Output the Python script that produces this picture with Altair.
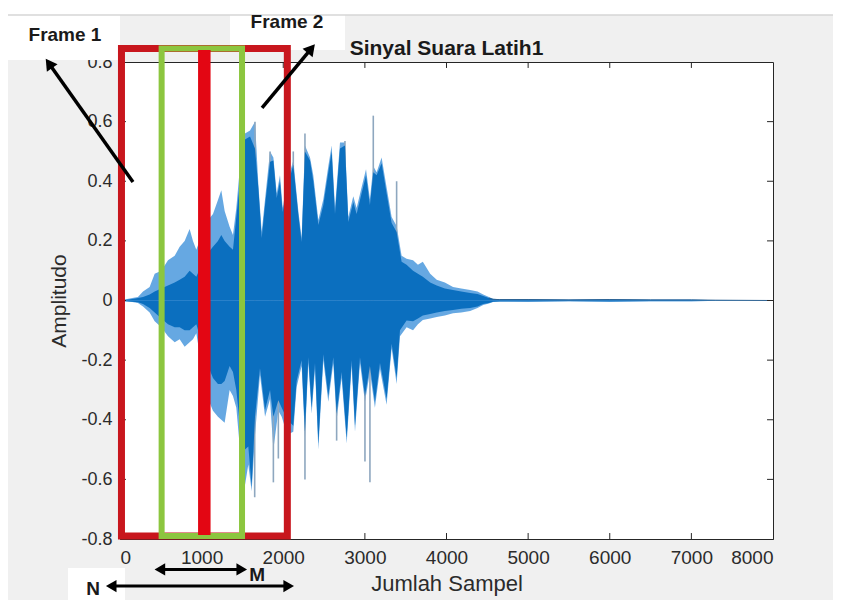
import altair as alt
import pandas as pd

# ---------------- data ----------------
# upper half of the waveform: sample index, outer (light) peak, dense (dark) peak
top_x = [0, 57, 150, 220, 282, 363, 425, 506, 588, 670, 731, 792, 853, 894, 935, 1000, 1080, 1139,
         1200, 1241, 1282, 1343, 1384, 1425, 1470, 1531, 1593, 1654, 1695, 1736, 1777, 1838, 1879,
         1920, 1960, 1993, 2050, 2123, 2185, 2225, 2266, 2328, 2368, 2430, 2491, 2552, 2593, 2634,
         2695, 2756, 2797, 2858, 2899, 2960, 3014, 3062, 3103, 3144, 3205, 3266, 3328, 3389, 3450,
         3511, 3590, 3650, 3710, 3800, 3880, 3980, 4080, 4180, 4290, 4380, 4450, 4520, 4570, 4650,
         5000, 5500, 6000, 6500, 7000, 7300, 8000]
top_light = [0, 0.003, 0.008, 0.012, 0.03, 0.045, 0.09, 0.10, 0.135, 0.15, 0.18, 0.20, 0.24, 0.20, 0.17, 0.22, 0.27, 0.29,
             0.337, 0.37, 0.30, 0.247, 0.22, 0.31, 0.45, 0.56, 0.57, 0.60, 0.39, 0.23, 0.34, 0.50, 0.48,
             0.36, 0.42, 0.31, 0.40, 0.47, 0.30, 0.21, 0.52, 0.48, 0.42, 0.27, 0.34, 0.45, 0.52, 0.31,
             0.53, 0.53, 0.28, 0.35, 0.31, 0.38, 0.44, 0.34, 0.45, 0.43, 0.48, 0.38, 0.28, 0.25, 0.15,
             0.14, 0.135, 0.12, 0.13, 0.09, 0.07, 0.06, 0.045, 0.04, 0.035, 0.03, 0.02, 0.012, 0.006, 0.004,
             0.004, 0.003, 0.004, 0.003, 0.003, 0.001, 0]
top_dark = [0, 0.002, 0.005, 0.008, 0.012, 0.02, 0.03, 0.04, 0.05, 0.06, 0.07, 0.08, 0.10, 0.09, 0.08, 0.12, 0.16, 0.18,
            0.20, 0.22, 0.20, 0.18, 0.17, 0.28, 0.40, 0.54, 0.55, 0.51, 0.377, 0.21, 0.32, 0.465, 0.47,
            0.344, 0.40, 0.297, 0.38, 0.455, 0.287, 0.196, 0.50, 0.47, 0.40, 0.253, 0.32, 0.43, 0.50, 0.29,
            0.51, 0.52, 0.263, 0.33, 0.29, 0.36, 0.42, 0.32, 0.43, 0.42, 0.46, 0.36, 0.26, 0.23, 0.13,
            0.12, 0.10, 0.09, 0.08, 0.06, 0.05, 0.04, 0.035, 0.03, 0.025, 0.022, 0.015, 0.008, 0.004, 0.003,
            0.003, 0.002, 0.003, 0.002, 0.002, 0.001, 0]

# lower half of the waveform
bot_x = [0, 57, 150, 220, 282, 363, 425, 506, 588, 670, 731, 792, 853, 894, 935, 1000, 1080, 1139,
         1200, 1241, 1282, 1343, 1384, 1425, 1470, 1531, 1572, 1613, 1654, 1715, 1777, 1838, 1879,
         1940, 1981, 2050, 2123, 2164, 2225, 2266, 2307, 2348, 2389, 2430, 2491, 2552, 2613, 2654,
         2715, 2777, 2838, 2879, 2940, 3001, 3062, 3123, 3185, 3266, 3328, 3389, 3430, 3511, 3590,
         3650, 3710, 3800, 3880, 3980, 4080, 4180, 4290, 4380, 4450, 4520, 4570, 4650,
         5000, 5500, 6000, 6500, 7000, 7300, 8000]
bot_light = [0, -0.003, -0.005, -0.008, -0.02, -0.04, -0.07, -0.09, -0.12, -0.14, -0.13, -0.155, -0.14, -0.13, -0.11, -0.22, -0.33, -0.37,
             -0.39, -0.40, -0.41, -0.30, -0.32, -0.36, -0.50, -0.62, -0.55, -0.64, -0.45, -0.25, -0.39, -0.33, -0.50,
             -0.37, -0.39, -0.45, -0.44, -0.29, -0.22, -0.46, -0.21, -0.38, -0.23, -0.50, -0.20, -0.34, -0.21, -0.40,
             -0.26, -0.48, -0.22, -0.44, -0.21, -0.34, -0.24, -0.36, -0.23, -0.35, -0.16, -0.28, -0.12, -0.09, -0.10,
             -0.08, -0.065, -0.06, -0.055, -0.05, -0.043, -0.04, -0.035, -0.025, -0.015, -0.01, -0.005, -0.003,
             -0.004, -0.003, -0.004, -0.003, -0.003, -0.001, 0]
bot_dark = [0, -0.002, -0.004, -0.006, -0.012, -0.025, -0.04, -0.06, -0.08, -0.09, -0.09, -0.10, -0.10, -0.09, -0.08, -0.14, -0.22, -0.26,
            -0.28, -0.28, -0.27, -0.22, -0.24, -0.30, -0.42, -0.50, -0.49, -0.625, -0.39, -0.227, -0.367, -0.30, -0.39,
            -0.335, -0.36, -0.40, -0.42, -0.27, -0.20, -0.44, -0.19, -0.36, -0.21, -0.48, -0.18, -0.32, -0.19, -0.38,
            -0.24, -0.46, -0.20, -0.42, -0.19, -0.32, -0.22, -0.34, -0.21, -0.33, -0.145, -0.26, -0.10, -0.067, -0.07,
            -0.06, -0.05, -0.045, -0.04, -0.035, -0.032, -0.028, -0.025, -0.02, -0.012, -0.008, -0.004, -0.003,
            -0.003, -0.002, -0.003, -0.002, -0.002, -0.001, 0]

# thin single-sample spikes that stick out of the envelope
spike_up_x = [1654, 1838, 2123, 2266, 2756, 3103, 3389]
spike_up_y = [0.60, 0.50, 0.50, 0.56, 0.535, 0.62, 0.40]
spike_dn_x = [1650, 1879, 1940, 2266, 2654, 3001, 3062]
spike_dn_y = [-0.66, -0.61, -0.53, -0.60, -0.47, -0.54, -0.61]

x_ticks = [0, 1000, 2000, 3000, 4000, 5000, 6000, 7000, 8000]
y_ticks = [-0.8, -0.6, -0.4, -0.2, 0, 0.2, 0.4, 0.6, 0.8]

# frames (sample ranges / amplitude ranges)
frame_n = {"x1": [18], "x2": [2050], "y1": [0.845], "y2": [-0.79]}
frame_m = {"x1": [510], "x2": [1495], "y1": [0.845], "y2": [-0.79]}
frame_cut = {"x": [1033], "y1": [0.84], "y2": [-0.787]}

# arrows: start -> tip
arrow_x1 = [159, 1740]
arrow_y1 = [0.3975, 0.646]
arrow_x2 = [-857, 2328]
arrow_y2 = [0.79, 0.84]
arrow_angle = [325, 40]

dbl_x1 = [-86, 510]
dbl_x2 = [2045, 1470]
dbl_y = [-0.958, -0.902]

label_text = ["Frame 1", "Frame 2", "N", "M"]
label_x = [-674, 2046, -330, 1680]
label_y = [0.891, 0.934, -0.968, -0.92]
label_size = [19, 19, 19, 19]

title_text = "Sinyal Suara Latih1"

assert len(top_x) == len(top_light) == len(top_dark)
assert len(bot_x) == len(bot_light) == len(bot_dark)

# ---------------- chart ----------------
FONT = "Liberation Sans"
XS = alt.Scale(domain=[0, 8000], nice=False, zero=False)
YS = alt.Scale(domain=[-0.8, 0.8], nice=False, zero=False)
AX = alt.Axis(values=x_ticks, title="Jumlah Sampel", grid=False, ticks=False, labelPadding=9,
              labelFont=FONT, labelFontSize=19, labelColor="#2b2b2b", titleFont=FONT,
              titleFontSize=22, titleFontWeight="normal", titleColor="#2b2b2b", titlePadding=6,
              domainColor="#262626", labelExpr="toString(datum.value)")
AY = alt.Axis(values=y_ticks, title="Amplitudo", grid=False, ticks=False, labelPadding=8,
              labelFont=FONT, labelFontSize=18, labelColor="#2b2b2b", titleFont=FONT,
              titleFontSize=21, titleFontWeight="normal", titleColor="#2b2b2b", titlePadding=11,
              domainColor="#262626", labelExpr="toString(round(datum.value*10)/10)")


def X(f):
    return alt.X(f, type="quantitative", scale=XS, axis=AX)


def Y(f):
    return alt.Y(f, type="quantitative", scale=YS, axis=AY)


one = pd.DataFrame({"a": [0]})


def patch(x1, x2, y1, y2, color):
    return alt.Chart(one).mark_rect(color=color, clip=False).encode(
        x=alt.value(x1), x2=alt.value(x2), y=alt.value(y1), y2=alt.value(y2))


patches = [
    patch(-112, 713, -54, -47, "white"),
    patch(-112, 0, -47, -2, "white"),
    patch(110, 225, -54, -12, "white"),
    patch(-52, 5, 506, 546, "white"),
    alt.Chart(one).mark_rule(color="#d6d6d6", strokeWidth=1.5, clip=False).encode(
        x=alt.value(-112), x2=alt.value(713), y=alt.value(-47)),
]

top_df = pd.DataFrame({"x": top_x, "light": top_light, "dark": top_dark, "zero": 0.0})
bot_df = pd.DataFrame({"x": bot_x, "light": bot_light, "dark": bot_dark, "zero": 0.0})


def half(df, field, color, opacity=1.0):
    return alt.Chart(df).mark_area(color=color, opacity=opacity, orient="vertical").encode(
        x=X("x"), y=Y(field), y2="zero")


spk = pd.DataFrame({"x": spike_up_x + spike_dn_x, "y": spike_up_y + spike_dn_y, "zero": 0.0})
spikes = alt.Chart(spk).mark_rule(color="#8ea7bf", strokeWidth=1.6).encode(
    x=X("x"), y=Y("y"), y2="zero")

tail = alt.Chart(top_df[top_df.x >= 4500]).mark_line(color="#2a5f8f", strokeWidth=1).encode(
    x=X("x"), y=Y("dark"))

# inward ticks (MATLAB style)
tick_len_y = 0.02
tick_len_x = 73
xt = [v for v in x_ticks if 0 < v < 8000]
yt = [v for v in y_ticks if -0.8 < v < 0.8]
tick_df_x = pd.DataFrame({"x": xt * 2,
                          "y1": [-0.8] * len(xt) + [0.8] * len(xt),
                          "y2": [-0.8 + tick_len_y] * len(xt) + [0.8 - tick_len_y] * len(xt)})
tick_df_y = pd.DataFrame({"y": yt * 2,
                          "x1": [0] * len(yt) + [8000] * len(yt),
                          "x2": [tick_len_x] * len(yt) + [8000 - tick_len_x] * len(yt)})
ticks_x = alt.Chart(tick_df_x).mark_rule(color="#262626", strokeWidth=1).encode(
    x=X("x"), y=Y("y1"), y2="y2")
ticks_y = alt.Chart(tick_df_y).mark_rule(color="#262626", strokeWidth=1).encode(
    x=X("x1"), x2="x2", y=Y("y"))

frame_red = alt.Chart(pd.DataFrame(frame_n)).mark_rect(
    fillOpacity=0, stroke="#c8161d", strokeWidth=7, clip=False).encode(
    x=X("x1"), x2="x2", y=Y("y1"), y2="y2")
frame_green = alt.Chart(pd.DataFrame(frame_m)).mark_rect(
    fillOpacity=0, stroke="#8cc63f", strokeWidth=6, clip=False).encode(
    x=X("x1"), x2="x2", y=Y("y1"), y2="y2")
cut = alt.Chart(pd.DataFrame(frame_cut)).mark_rule(
    color="#e30613", strokeWidth=12.5, clip=False).encode(x=X("x"), y=Y("y1"), y2="y2")

arrows_df = pd.DataFrame({"x1": arrow_x1, "y1": arrow_y1, "x2": arrow_x2, "y2": arrow_y2,
                          "ang": arrow_angle})
arrow_lines = alt.Chart(arrows_df).mark_rule(color="black", strokeWidth=3.5, clip=False).encode(
    x=X("x1"), y=Y("y1"), x2="x2", y2="y2")
arrow_heads = alt.Chart(arrows_df).mark_point(
    shape="triangle", filled=True, color="black", size=170, opacity=1, clip=False).encode(
    x=X("x2"), y=Y("y2"), angle=alt.Angle("ang:Q", scale=None))

dbl_df = pd.DataFrame({"x1": dbl_x1, "x2": dbl_x2, "y": dbl_y})
dbl_lines = alt.Chart(dbl_df).mark_rule(color="black", strokeWidth=3, clip=False).encode(
    x=X("x1"), x2="x2", y=Y("y"))
heads_df = pd.DataFrame({"x": dbl_x1 + dbl_x2, "y": dbl_y + dbl_y,
                         "ang": [270] * len(dbl_x1) + [90] * len(dbl_x2)})
dbl_heads = alt.Chart(heads_df).mark_point(
    shape="triangle", filled=True, color="black", size=150, opacity=1, clip=False).encode(
    x=X("x"), y=Y("y"), angle=alt.Angle("ang:Q", scale=None))

labels = alt.Chart(pd.DataFrame({"t": label_text, "x": label_x, "y": label_y, "s": label_size})).mark_text(
    font=FONT, fontWeight="bold", color="#1a1a1a", align="center", baseline="middle", clip=False).encode(
    x=X("x"), y=Y("y"), text="t:N", size=alt.Size("s:Q", scale=None))

title = alt.Chart(pd.DataFrame({"t": [title_text], "x": [4000], "y": [0.8236]})).mark_text(
    font=FONT, fontWeight="bold", fontSize=21, color="#1a1a1a", align="center",
    baseline="alphabetic", clip=False).encode(x=X("x"), y=Y("y"), text="t:N")

chart = alt.layer(
    *patches,
    half(top_df, "light", "#5ea3e0", 0.95), half(bot_df, "light", "#5ea3e0", 0.95),
    spikes,
    half(top_df, "dark", "#0b6fbf"), half(bot_df, "dark", "#0b6fbf"),
    tail, ticks_x, ticks_y,
    frame_red, frame_green, cut, arrow_lines, arrow_heads, dbl_lines, dbl_heads, labels, title
).properties(
    width=653, height=477,
    padding={"left": 112, "top": 54, "right": 60, "bottom": 62},
    autosize=alt.AutoSizeParams(type="none"),
    background="#f0f0f0",
).configure_view(fill="white", stroke="#262626", strokeWidth=1)

chart.save("out.html", embed_options={"renderer": "svg", "actions": False})
